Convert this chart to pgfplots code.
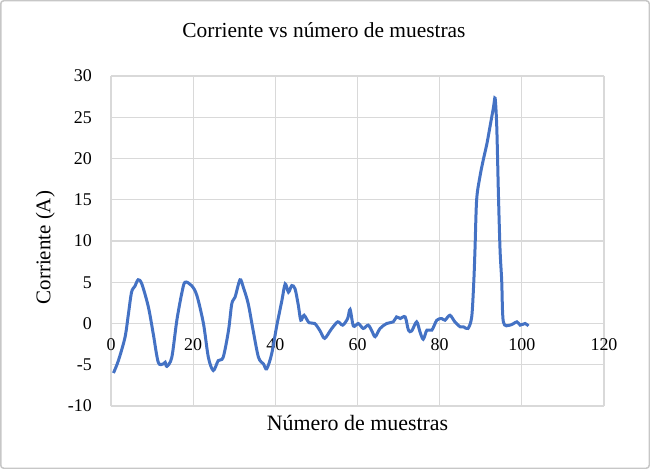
\documentclass[border=0pt]{standalone}
\usepackage{fontspec}
\setmainfont{Liberation Serif}
\usepackage{pgfplots}
\pgfplotsset{compat=1.18}
\definecolor{serieblue}{RGB}{68,114,196}
\definecolor{gridgray}{RGB}{217,217,217}
\begin{document}
\begin{tikzpicture}
\useasboundingbox (0,0) rectangle (650bp,469bp);
\draw[gridgray!80!gray, line width=1.5bp, rounded corners=3bp] (0.75bp,0.75bp) rectangle (649.25bp,468.25bp);
\begin{axis}[
    at={(111bp,63bp)}, anchor=south west,
    scale only axis,
    width=493bp, height=330bp,
    xmin=0, xmax=120, ymin=-10, ymax=30,
    xtick={0,20,...,120},
    ytick={-10,-5,...,30},
    axis x line=middle, axis y line=left,
    axis line style={draw=none},
    hide obscured x ticks=false, hide obscured y ticks=false,
    major tick length=0pt,
    tick style={draw=none},
    grid=major,
    major grid style={gridgray, line width=1.3bp},
    /pgf/number format/assume math mode=true,
    ticklabel style={font=\fontsize{18}{21}\selectfont},
    xticklabel style={anchor=north, inner sep=0pt, yshift=-15bp},
    yticklabel style={anchor=east, inner sep=0pt, xshift=-19bp},
    title={Corriente vs número de muestras},
    title style={font=\fontsize{21.5}{25}\selectfont, at={(axis description cs:0.432,1.12)}, anchor=center},
    xlabel={Número de muestras},
    xlabel style={font=\fontsize{22}{26}\selectfont, at={(axis description cs:0.5,-0.05)}, anchor=center},
    ylabel={Corriente (A)},
    ylabel style={font=\fontsize{21}{25}\selectfont, at={(axis description cs:-0.133,0.48)}, anchor=center},
    clip=false,
]
\addplot[serieblue, line width=3bp, smooth, tension=0.5] coordinates {
(0.6,-6.0) (1.8,-4.5) (3.4,-1.7) (4.2,1.0) (5.0,3.8) (5.8,4.5) (6.6,5.3)
(7.5,4.8) (9.1,2.0) (10.3,-1.3) (11.5,-4.7) (12.7,-4.9) (13.2,-4.7)
(13.6,-5.2) (14.8,-4.1) (16.0,0.3) (17.2,3.6) (18.0,5.0) (19.6,4.6)
(20.9,3.4) (22.5,0.0) (23.7,-4.1) (24.9,-5.7) (26.1,-4.5) (27.3,-4.1)
(28.6,-0.85) (29.4,2.4) (30.2,3.2) (31.4,5.3) (32.2,4.4) (33.4,2.4)
(34.6,-0.85) (35.9,-4.1) (37.1,-4.9) (37.9,-5.5) (39.1,-3.7) (40.3,-0.4)
(41.6,2.8) (42.4,4.8) (43.2,3.8) (44.0,4.6) (44.8,4.2) (45.6,2.2)
(46.2,0.4) (47.0,1.0) (48.2,0.1) (49.6,0.0) (50.9,-0.9) (52.0,-1.8)
(53.6,-0.7) (55.2,0.2) (56.4,-0.2) (57.6,0.6) (58.2,1.7) (59.0,-0.3)
(60.2,0.0) (61.4,-0.6) (62.6,-0.2) (63.5,-0.9) (64.3,-1.6) (65.5,-0.6)
(67.1,0.0) (68.7,0.2) (69.5,0.8) (70.4,0.6) (71.6,0.8) (72.4,-0.8)
(73.2,-0.9) (74.4,0.2) (75.2,-1.0) (76.0,-1.9) (76.9,-0.8) (78.1,-0.8)
(79.3,0.4) (80.5,0.6) (81.3,0.4) (82.5,1.0) (83.7,0.2) (85.0,-0.4)
(85.8,-0.4) (86.9,-0.6) (87.8,0.8) (88.3,5.0) (88.6,9.0) (89.0,15.0)
(89.8,17.8) (90.6,19.8) (91.5,21.8) (92.3,24.0) (93.1,26.2) (93.5,27.3)
(93.9,23.8) (94.3,15.7) (94.7,8.9) (95.1,5.2) (95.5,0.2) (97.1,-0.2)
(98.8,0.2) (99.6,-0.2) (100.8,0.0) (101.6,-0.3)
};
\end{axis}
\end{tikzpicture}
\end{document}
